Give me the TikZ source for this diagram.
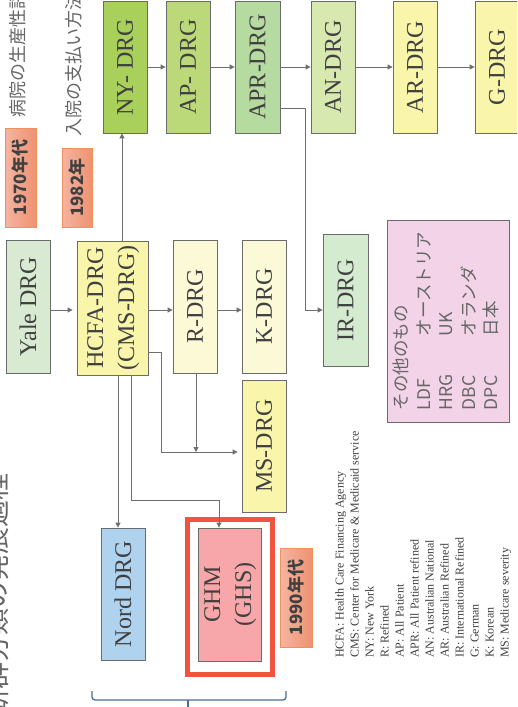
\documentclass[tikz,border=0pt]{standalone}
\usepackage{fontspec}
\usepackage{graphicx}
\setmainfont{Liberation Serif}
\newfontfamily\jp{Noto Sans CJK JP}
\usetikzlibrary{arrows.meta}

\definecolor{edgeclr}{HTML}{6B6B6B}
\definecolor{lineclr}{HTML}{6E6E6E}
\definecolor{ink}{HTML}{404040}
\definecolor{softink}{HTML}{666666}
\definecolor{nyfill}{HTML}{A9D05A}
\definecolor{apfill}{HTML}{BCD97A}
\definecolor{aprfill}{HTML}{B5DBA0}
\definecolor{anfill}{HTML}{D8E9B0}
\definecolor{yelfill}{HTML}{F9F5AA}
\definecolor{palefill}{HTML}{FCF9D6}
\definecolor{yalefill}{HTML}{D8EBD2}
\definecolor{irfill}{HTML}{D5EBCF}
\definecolor{nordfill}{HTML}{AFD2EF}
\definecolor{ghmfill}{HTML}{F7A7A9}
\definecolor{otherfill}{HTML}{F3D3E8}
\definecolor{badgeA}{HTML}{F5B4A0}
\definecolor{badgeB}{HTML}{EF9272}
\definecolor{badgeline}{HTML}{F0905A}
\definecolor{frameclr}{HTML}{F05440}
\definecolor{braceclr}{HTML}{4A7090}

\newcommand\vtext[1]{\rotatebox{90}{#1}}
\newcommand\pair[2]{\begin{tabular}{@{}c@{}}#1\\#2\end{tabular}}

\tikzset{
  drg/.style={draw=edgeclr, line width=0.8pt, inner sep=0pt, text=ink,
    font=\fontsize{24}{31}\selectfont},
  badge/.style={draw=badgeline, line width=0.8pt, inner sep=0pt,
    left color=badgeA, right color=badgeB, text=ink,
    font=\jp\bfseries\fontsize{17}{20}\selectfont},
  jpnote/.style={inner sep=0pt, text=softink, font=\jp\fontsize{18}{20}\selectfont},
  legendtext/.style={inner sep=0pt, text=ink, font=\fontsize{12}{15}\selectfont},
  arr/.style={draw=lineclr, line width=0.9pt, -{Triangle[length=5pt,width=5pt]}},
  plain/.style={draw=lineclr, line width=0.9pt},
}

\begin{document}
\begin{tikzpicture}[x=1pt,y=-1pt]
\useasboundingbox (0,0) rectangle (517,707);
\fill[white] (0,0) rectangle (517,707);
\clip (0,0) rectangle (517,707);

% titles and era badges
\node[jpnote, anchor=north, font=\jp\fontsize{27}{30}\selectfont] (title) at (-4,473) {\vtext{診断群分類の発展過程}};
\node[jpnote, anchor=south] (note1) at (18,118) {\vtext{病院の生産性評価}};
\node[jpnote, anchor=south] (note2) at (74,137) {\vtext{入院の支払い方法}};
\node[badge, minimum width=31pt, minimum height=99pt] (b1970) at (20.5,177.5) {\vtext{1970年代}};
\node[badge, minimum width=30pt, minimum height=79pt] (b1982) at (77,187.5) {\vtext{1982年}};
\node[badge, minimum width=32pt, minimum height=99pt] (b1990) at (296,597.5) {\vtext{1990年代}};

% top row
\node[drg, fill=nyfill,  minimum width=44pt, minimum height=132pt] (ny)  at (125,67)   {\vtext{NY- DRG}};
\node[drg, fill=apfill,  minimum width=44pt, minimum height=132pt] (ap)  at (188,67)   {\vtext{AP- DRG}};
\node[drg, fill=aprfill, minimum width=45pt, minimum height=132pt] (apr) at (257.5,67) {\vtext{APR-DRG}};
\node[drg, fill=anfill,  minimum width=44pt, minimum height=132pt] (an)  at (333,67)   {\vtext{AN-DRG}};
\node[drg, fill=yelfill, minimum width=44pt, minimum height=132pt] (ar)  at (415,67)   {\vtext{AR-DRG}};
\node[drg, fill=yelfill, minimum width=44pt, minimum height=132pt] (g)   at (497,67)   {\vtext{G-DRG}};

% middle row
\node[drg, fill=yalefill, minimum width=44pt, minimum height=133pt] (yale) at (28,306.5)  {\vtext{Yale DRG}};
\node[drg, fill=yelfill,  minimum width=71pt, minimum height=134pt] (hcfa) at (112.5,308) {\vtext{\pair{HCFA-DRG}{(CMS-DRG)}}};
\node[drg, fill=palefill,  minimum width=44pt, minimum height=133pt] (r)    at (195,306.5) {\vtext{R-DRG}};
\node[drg, fill=palefill,  minimum width=44pt, minimum height=133pt] (k)    at (264,306.5) {\vtext{K-DRG}};
\node[drg, fill=yelfill,  minimum width=44pt, minimum height=132pt] (ms)   at (264,446)   {\vtext{MS-DRG}};
\node[drg, fill=irfill,   minimum width=45pt, minimum height=132pt] (ir)   at (345.5,300) {\vtext{IR-DRG}};

% other systems
\node[draw=edgeclr, line width=0.8pt, fill=otherfill, inner sep=0pt, minimum width=122pt, minimum height=202pt,
      text=softink, font=\jp\fontsize{17.5}{22.5}\selectfont] (other) at (448,321)
  {\vtext{\begin{tabular}{@{}l@{}}
    その他のもの\\
    \makebox[74pt][l]{LDF}オーストリア\\
    \makebox[74pt][l]{HRG}UK\\
    \makebox[74pt][l]{DBC}オランダ\\
    \makebox[74pt][l]{DPC}日本
  \end{tabular}}};

% bottom row
\node[drg, fill=nordfill, minimum width=44pt, minimum height=132pt] (nord) at (123,594)   {\vtext{Nord DRG}};
\node[drg, fill=ghmfill,  minimum width=63pt, minimum height=133pt] (ghm)  at (229.5,594.5) {\vtext{\pair{GHM}{(GHS)}}};
\draw[frameclr, line width=5pt] (187.5,519.5) rectangle (272.5,674);

% abbreviations
\node[legendtext, anchor=south west] (legend) at (333,658) {\vtext{\begin{tabular}{@{}l@{}}
  HCFA: Health Care Financing Agency\\
  CMS: Center for Medicare \& Medicaid service\\
  NY: New York\\
  R: Refined\\
  AP: All Patient\\
  APR: All Patient refined\\
  AN: Australian National\\
  AR: Australian Refined\\
  IR: International Refined\\
  G: German\\
  K: Korean\\
  MS: Medicare severity
\end{tabular}}};

% connectors
\draw[arr] (ny) -- (ap);
\draw[arr] (ap) -- (apr);
\draw[arr] (apr) -- (an);
\draw[arr] (an) -- (ar);
\draw[arr] (ar) -- (g);

\coordinate (j1) at (0,310);
\draw[arr, shorten >=4pt] (yale.east |- j1) -- (hcfa.west |- j1);
\draw[arr] (hcfa.east |- j1) -- (r.west |- j1);
\draw[arr] (r.east |- j1) -- (k.west |- j1);

\coordinate (upx) at (122,0);
\draw[arr] (hcfa.north -| upx) -- (ny.south -| upx);

\coordinate (a1) at (305,108);
\coordinate (a2) at (305,310);
\draw[arr] (apr.east |- a1) -- (a1) -- (a2) -- (ir.west |- a2);

\coordinate (m1) at (161,352);
\coordinate (m2) at (161,452);
\coordinate (rm) at (196,452);
\draw[arr, shorten >=4pt] (hcfa.east |- m1) -- (m1) -- (m2) -- (ms.west |- m2);
\draw[arr] (r.south -| rm) -- (rm);

\coordinate (nx) at (118,0);
\draw[arr] (hcfa.south -| nx) -- (nord.north -| nx);

\coordinate (g1) at (131,500);
\coordinate (g2) at (219,500);
\draw[arr] (hcfa.south -| g1) -- (g1) -- (g2) -- (ghm.north -| g2);

% bracket under the last row
\coordinate (brl) at (92,691);
\coordinate (brr) at (286,691);
\coordinate (brm) at (188,700);
\draw[braceclr, line width=1.3pt, rounded corners=3pt] (brl) -- (92,700) -- (286,700) -- (brr);
\draw[braceclr, line width=1.3pt] (brm) -- (188,712);
\end{tikzpicture}
\end{document}
